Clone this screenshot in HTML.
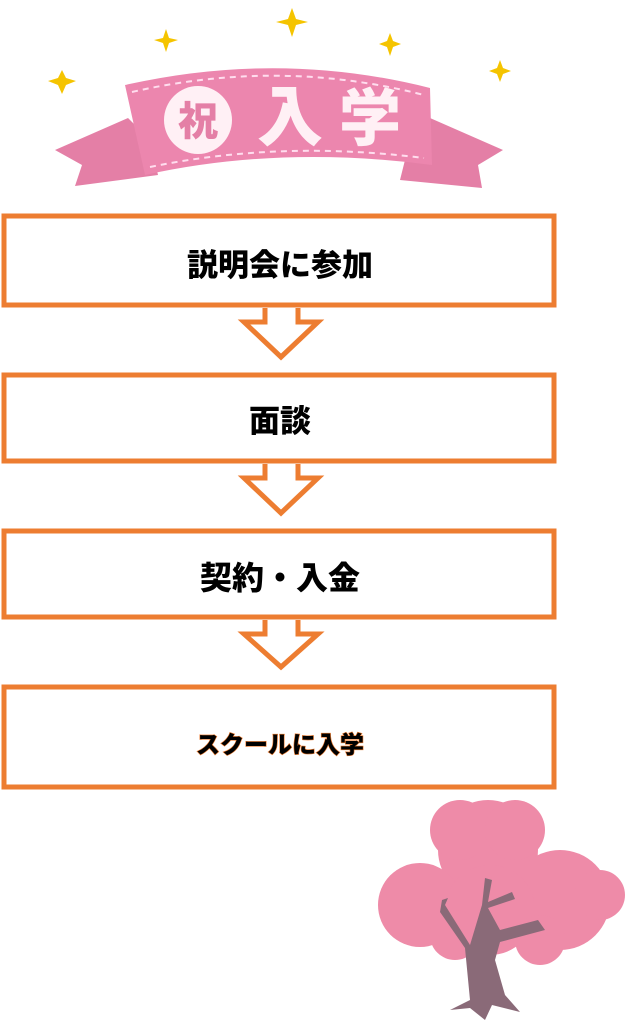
<!DOCTYPE html>
<html><head><meta charset="utf-8"><style>
html,body{margin:0;padding:0;background:#fff;width:632px;height:1024px;overflow:hidden}
svg{display:block}
text{font-family:"Liberation Sans","Noto Sans CJK JP",sans-serif;font-weight:900;text-anchor:middle}
</style></head><body>
<svg width="632" height="1024" viewBox="0 0 632 1024">
<g fill="#F5C400">
<path d="M292 8 L296 19 L308 22 L296 25 L292 37 L288 25 L276 22 L288 19Z"/>
<path d="M166 29 L169 38 L178 40 L169 43 L166 52 L163 43 L154 40 L163 38Z"/>
<path d="M390 33 L393 41 L401 44 L393 47 L390 56 L387 47 L379 44 L387 41Z"/>
<path d="M62 70 L66 78 L76 81 L66 85 L62 94 L58 85 L48 81 L58 78Z"/>
<path d="M500 60 L503 68 L511 71 L503 74 L500 82 L497 74 L489 71 L497 68Z"/>
</g>
<path d="M128 118 L55 150 L82 165 L75 186 L158 175 L150 140Z" fill="#E47FA6"/>
<path d="M430 118 L503 150 L478 165 L482 188 L400 180 L410 140Z" fill="#E47FA6"/>
<path d="M125 85 Q280 50 430 88 L432 165 Q280 145 145 175 Z" fill="#EC86AE"/>
<path d="M132 92 Q280 58 424 95 M150 167 Q280 140 424 158" stroke="#fde" stroke-width="2" stroke-dasharray="6 5" fill="none"/>
<circle cx="198" cy="120" r="34" fill="#fff0f5"/>
<text x="198" y="135" font-size="40" fill="#E47FA6">祝</text>
<text x="290" y="140" font-size="66" fill="#fff0f5">入</text>
<text x="370" y="140" font-size="62" fill="#fff0f5">学</text>
<g fill="#fff" stroke="#ED7D31" stroke-width="5">
<rect x="4" y="216" width="550" height="89"/>
<rect x="4" y="375" width="550" height="86"/>
<rect x="4" y="531" width="550" height="86"/>
<rect x="4" y="687" width="550" height="100"/>
<path d="M265 308 L265 322 L244 322 L281 357 L318 322 L298 322 L298 308"/>
<path d="M265 464 L265 478 L244 478 L281 513 L318 478 L298 478 L298 464"/>
<path d="M265 620 L265 634 L244 634 L281 667 L318 634 L298 634 L298 620"/>
</g>
<text x="280" y="276" font-size="31" fill="#000">説明会に参加</text>
<text x="280" y="432" font-size="31" fill="#000">面談</text>
<text x="280" y="589" font-size="32" fill="#000">契約・入金</text>
<text x="280" y="753" font-size="24" fill="#000" stroke="#ED7D31" stroke-width="1.2" paint-order="stroke">スクールに入学</text>
<g fill="#EE8BA8">
<circle cx="488" cy="850" r="50"/><circle cx="460" cy="830" r="30"/><circle cx="515" cy="830" r="30"/>
<circle cx="420" cy="905" r="42"/><circle cx="560" cy="900" r="50"/><circle cx="490" cy="910" r="45"/>
<circle cx="600" cy="895" r="25"/><circle cx="455" cy="935" r="25"/><circle cx="540" cy="940" r="25"/>
</g>
<path d="M488 908 L515 899 L512 892 L488 902 L492 880 L485 878 L482 905 L470 945 L445 905 L448 898 L442 900 L440 912 L465 948 L470 1000 L450 1010 L470 1008 L485 1020 L492 1005 L520 1012 L505 995 L495 960 L500 942 L545 930 L538 920 L500 930Z" fill="#8A6A78"/>
</svg>
</body></html>
